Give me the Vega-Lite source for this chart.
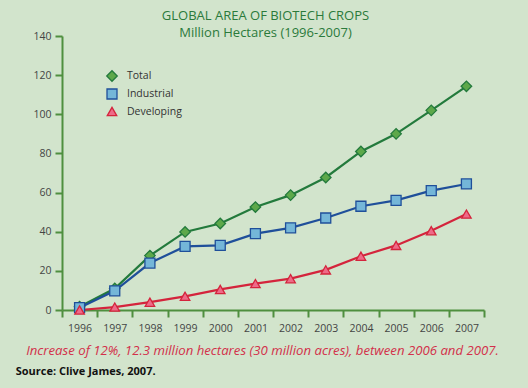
{
  "$schema": "https://vega.github.io/schema/vega-lite/v6.json",
  "autosize": "none",
  "width": 422,
  "height": 274,
  "padding": {"left": 62, "top": 36, "right": 44, "bottom": 78},
  "background": "#d2e4cc",
  "config": {"view": {"stroke": null}},
  "title": {
    "text": "Source: Clive James, 2007.",
    "orient": "bottom",
    "anchor": "start",
    "frame": "bounds",
    "font": "Open Sans",
    "fontSize": 11,
    "fontWeight": "bold",
    "color": "#111111",
    "offset": 9,
    "dx": -10
  },
  "data": {
    "values": [
      {"year": "1996", "series": "Total", "value": 1.7},
      {"year": "1997", "series": "Total", "value": 11},
      {"year": "1998", "series": "Total", "value": 27.8},
      {"year": "1999", "series": "Total", "value": 39.9},
      {"year": "2000", "series": "Total", "value": 44.2},
      {"year": "2001", "series": "Total", "value": 52.6},
      {"year": "2002", "series": "Total", "value": 58.7},
      {"year": "2003", "series": "Total", "value": 67.7},
      {"year": "2004", "series": "Total", "value": 81},
      {"year": "2005", "series": "Total", "value": 90},
      {"year": "2006", "series": "Total", "value": 102},
      {"year": "2007", "series": "Total", "value": 114.3},
      {"year": "1996", "series": "Industrial", "value": 1.2},
      {"year": "1997", "series": "Industrial", "value": 9.8},
      {"year": "1998", "series": "Industrial", "value": 24},
      {"year": "1999", "series": "Industrial", "value": 32.5},
      {"year": "2000", "series": "Industrial", "value": 33},
      {"year": "2001", "series": "Industrial", "value": 39},
      {"year": "2002", "series": "Industrial", "value": 42},
      {"year": "2003", "series": "Industrial", "value": 47},
      {"year": "2004", "series": "Industrial", "value": 53},
      {"year": "2005", "series": "Industrial", "value": 56},
      {"year": "2006", "series": "Industrial", "value": 61},
      {"year": "2007", "series": "Industrial", "value": 64.4},
      {"year": "1996", "series": "Developing", "value": 0},
      {"year": "1997", "series": "Developing", "value": 1.5},
      {"year": "1998", "series": "Developing", "value": 4},
      {"year": "1999", "series": "Developing", "value": 7},
      {"year": "2000", "series": "Developing", "value": 10.5},
      {"year": "2001", "series": "Developing", "value": 13.5},
      {"year": "2002", "series": "Developing", "value": 16},
      {"year": "2003", "series": "Developing", "value": 20.5},
      {"year": "2004", "series": "Developing", "value": 27.5},
      {"year": "2005", "series": "Developing", "value": 33},
      {"year": "2006", "series": "Developing", "value": 40.5},
      {"year": "2007", "series": "Developing", "value": 49}
    ]
  },
  "encoding": {
    "y": {
      "field": "value",
      "type": "quantitative",
      "scale": {"domain": [0, 140], "nice": false},
      "axis": {
        "title": null,
        "values": [0, 20, 40, 60, 80, 100, 120, 140],
        "grid": false,
        "labelFont": "Open Sans",
        "labelFontSize": 10.5,
        "labelColor": "#444444",
        "labelPadding": 4,
        "domainColor": "#4f8f3f",
        "domainWidth": 2,
        "tickColor": "#4f8f3f",
        "tickWidth": 2,
        "tickSize": 7
      }
    }
  },
  "layer": [
    {
      "mark": {"type": "line", "strokeWidth": 2.2},
      "encoding": {
        "x": {
          "field": "year",
          "type": "ordinal",
          "scale": {"type": "band", "paddingInner": 0, "paddingOuter": 0},
          "axis": {
            "orient": "bottom",
            "title": "Increase of 12%, 12.3 million hectares (30 million acres), between 2006 and 2007.",
            "titleFont": "Open Sans",
            "titleFontSize": 13.2,
            "titleFontStyle": "italic",
            "titleFontWeight": "normal",
            "titleColor": "#d3304a",
            "titlePadding": 11,
            "titleX": 200,
            "tickBand": "extent",
            "labelAngle": 0,
            "labelFont": "Open Sans",
            "labelFontSize": 10.5,
            "labelColor": "#444444",
            "labelPadding": 6,
            "domainColor": "#4f8f3f",
            "domainWidth": 2,
            "tickColor": "#4f8f3f",
            "tickWidth": 2,
            "tickSize": 7
          }
        },
        "stroke": {
          "field": "series",
          "type": "nominal",
          "scale": {"domain": ["Total", "Industrial", "Developing"], "range": ["#237a3c", "#1f4f9a", "#d4243c"]},
          "legend": {
            "title": null,
            "orient": "none",
            "legendX": 44,
            "legendY": 34,
            "labelFont": "Open Sans",
            "labelFontSize": 10.5,
            "labelColor": "#333333",
            "labelOffset": 9,
            "symbolStrokeWidth": 1.3,
            "rowPadding": 2
          }
        }
      }
    },
    {
      "mark": {"type": "point", "filled": true, "strokeWidth": 1.3, "opacity": 1},
      "encoding": {
        "x": {
          "field": "year",
          "type": "ordinal",
          "scale": {"type": "band", "paddingInner": 0, "paddingOuter": 0},
          "axis": {
            "orient": "top",
            "title": ["GLOBAL AREA OF BIOTECH CROPS", "Million Hectares (1996-2007)"],
            "titleFont": "Open Sans",
            "titleFontSize": 13,
            "titleFontWeight": "normal",
            "titleColor": "#2b7a3b",
            "titleLineHeight": 17,
            "titlePadding": -3,
            "titleX": 203,
            "labels": false,
            "ticks": false,
            "domain": false
          }
        },
        "size": {
          "field": "series",
          "type": "nominal",
          "scale": {"domain": ["Total", "Industrial", "Developing"], "range": [110, 90, 115]},
          "legend": {
            "title": null,
            "orient": "none",
            "legendX": 44,
            "legendY": 34,
            "labelFont": "Open Sans",
            "labelFontSize": 10.5,
            "labelColor": "#333333",
            "labelOffset": 9,
            "symbolStrokeWidth": 1.3,
            "rowPadding": 2
          }
        },
        "shape": {
          "field": "series",
          "type": "nominal",
          "scale": {"domain": ["Total", "Industrial", "Developing"], "range": ["diamond", "square", "triangle-up"]},
          "legend": {
            "title": null,
            "orient": "none",
            "legendX": 44,
            "legendY": 34,
            "labelFont": "Open Sans",
            "labelFontSize": 10.5,
            "labelColor": "#333333",
            "labelOffset": 9,
            "symbolStrokeWidth": 1.3,
            "rowPadding": 2
          }
        },
        "fill": {
          "field": "series",
          "type": "nominal",
          "scale": {"domain": ["Total", "Industrial", "Developing"], "range": ["#5da84a", "#74b6d8", "#ee6a88"]},
          "legend": {
            "title": null,
            "orient": "none",
            "legendX": 44,
            "legendY": 34,
            "labelFont": "Open Sans",
            "labelFontSize": 10.5,
            "labelColor": "#333333",
            "labelOffset": 9,
            "symbolStrokeWidth": 1.3,
            "rowPadding": 2
          }
        },
        "stroke": {
          "field": "series",
          "type": "nominal",
          "legend": {
            "title": null,
            "orient": "none",
            "legendX": 44,
            "legendY": 34,
            "labelFont": "Open Sans",
            "labelFontSize": 10.5,
            "labelColor": "#333333",
            "labelOffset": 9,
            "symbolStrokeWidth": 1.3,
            "rowPadding": 2
          }
        }
      }
    }
  ],
  "resolve": {"axis": {"x": "independent"}}
}
